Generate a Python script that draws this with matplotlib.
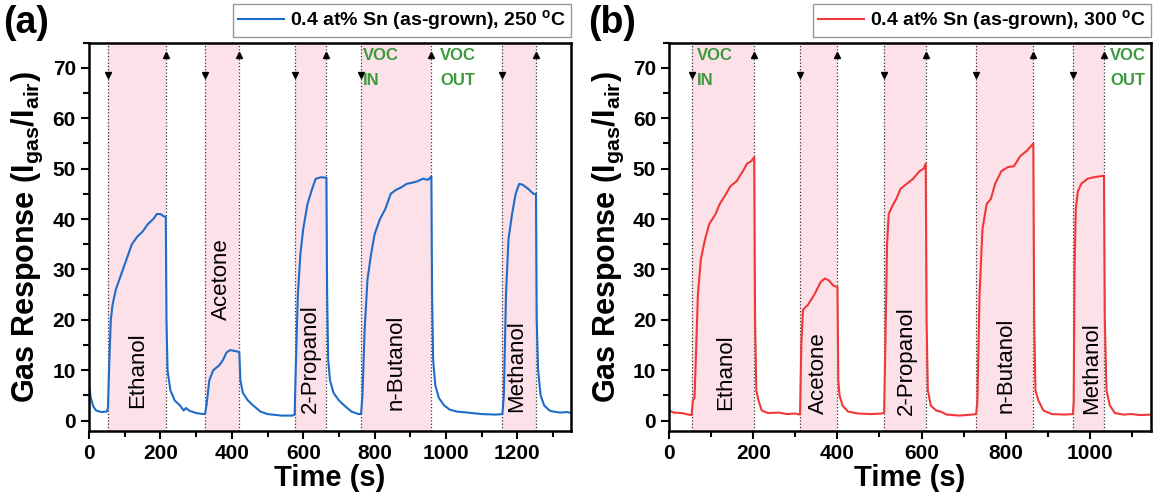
import matplotlib
matplotlib.use('Agg')
import matplotlib.pyplot as plt
from matplotlib.ticker import MultipleLocator

plt.rcParams['font.family'] = ['Liberation Sans', 'DejaVu Sans']
plt.rcParams['mathtext.default'] = 'regular'

gases = ['Ethanol', 'Acetone', '2-Propanol', 'n-Butanol', 'Methanol']

# (a) 250 C
t_a = [0, 5, 12, 20, 35, 50, 53, 57, 61, 66, 75, 90, 105, 120, 135, 150, 165, 180, 190, 200, 210, 215,
       217, 220, 228, 240, 255, 265, 272, 280, 300, 320, 325, 329, 337, 348, 365, 375, 385, 395, 410, 421,
       424, 431, 445, 460, 480, 500, 540, 570, 576, 579, 585, 592, 600, 612, 625, 635, 650, 665,
       667, 670, 675, 685, 700, 715, 735, 755, 762, 766, 772, 780, 790, 800, 815, 830, 845, 860, 875, 890, 905, 920, 935, 950, 959,
       961, 964, 970, 980, 995, 1010, 1030, 1060, 1100, 1140, 1158, 1162, 1168, 1175, 1185, 1195, 1205, 1215, 1230, 1245, 1252,
       1254, 1258, 1265, 1275, 1290, 1300, 1320, 1340, 1350]
r_a = [7.0, 4.5, 2.8, 2.0, 1.7, 1.8, 2.5, 12, 20, 23, 26, 29, 32, 35, 36.5, 37.5, 39, 40, 41, 41, 40.5, 40.5,
       20, 10, 6, 4, 3, 2, 2.5, 2, 1.5, 1.3, 1.3, 3, 8, 10, 11, 12, 13.5, 14, 13.8, 13.6,
       8, 5.5, 4, 3, 1.8, 1.3, 1.0, 1.0, 1.2, 10, 25, 33, 38, 43, 46, 48, 48.3, 48.2,
       25, 12, 8, 5.5, 4, 3, 1.8, 1.3, 1.3, 5, 18, 28, 33, 37, 40, 42, 45, 45.8, 46.3, 47, 47.2, 47.5, 48, 47.8, 48.5,
       25, 12, 7, 4.5, 3, 2.2, 1.8, 1.6, 1.3, 1.2, 1.3, 5, 25, 36, 41, 45, 47, 46.8, 46, 45, 45,
       20, 10, 5, 3, 2, 1.8, 1.6, 1.7, 1.5]
in_a = [53, 325, 576, 762, 1158]
out_a = [215, 421, 665, 959, 1252]
lab_x_a = [136, 372, 621, 859, 1198]
lab_y_a = [10.1, 28.1, 12.3, 11.6, 10.8]

# (b) 300 C
t_b = [0, 10, 30, 45, 53, 56, 60, 63, 68, 75, 85, 95, 110, 120, 135, 145, 160, 175, 185, 195, 202,
       204, 207, 212, 220, 235, 260, 280, 300, 311, 314, 318, 330, 345, 360, 370, 380, 390, 400,
       402, 405, 412, 425, 450, 480, 505, 511, 514, 518, 522, 530, 540, 550, 565, 580, 595, 605, 610,
       612, 615, 622, 635, 645, 660, 690, 720, 730, 733, 738, 745, 755, 765, 775, 790, 805, 820, 835, 850, 866,
       868, 871, 878, 890, 910, 940, 960, 962, 964, 967, 972, 980, 995, 1010, 1034,
       1036, 1040, 1048, 1060, 1080, 1100, 1120, 1148]
r_b = [2.0, 1.6, 1.5, 1.2, 1.1, 4, 4.5, 12, 25, 32, 36, 39, 41, 43, 45, 46.5, 47.5, 49.5, 51, 51.5, 52.3,
       20, 6, 4, 2, 1.5, 1.6, 1.3, 1.4, 1.2, 15, 22, 23, 25, 27.5, 28.2, 27.8, 26.8, 26.5,
       8, 5, 3, 1.8, 1.4, 1.3, 1.4, 1.6, 15, 35, 41, 42.5, 44, 46, 47, 48, 49.5, 50, 51,
       20, 6, 3, 2, 1.8, 1.2, 1.0, 1.2, 1.3, 4, 25, 38, 43, 44, 47, 49.5, 50.3, 50.5, 52.5, 53.5, 55,
       20, 6, 4, 2, 1.3, 1.2, 1.3, 3.5, 30, 42, 45.5, 47, 48, 48.3, 48.6,
       20, 6, 3, 1.5, 1.2, 1.3, 1.1, 1.2]
in_b = [53, 311, 511, 730, 960]
out_b = [202, 400, 610, 866, 1034]
lab_x_b = [133, 355, 564, 800, 1004]
lab_y_b = [9.6, 9.5, 12.0, 11.0, 10.5]

panels = [
    ('(a)', t_a, r_a, in_a, out_a, lab_x_a, lab_y_a, '#1f6cc8', '0.4 at% Sn (as-grown), 250 $^o$C', 1350, 767, 983),
    ('(b)', t_b, r_b, in_b, out_b, lab_x_b, lab_y_b, '#f0383a', '0.4 at% Sn (as-grown), 300 $^o$C', 1146, 66, 1049),
]
axes_pos = [[0.0772, 0.1334, 0.418, 0.7807], [0.5805, 0.1334, 0.4178, 0.7807]]
letter_x = [0.003, 0.510]

fig = plt.figure(figsize=(11.53, 4.97), dpi=100)

for k, (letter, t, r, t_in, t_out, lx, ly, col, lbl, xmax, voc_in_x, voc_out_x) in enumerate(panels):
    ax = fig.add_axes(axes_pos[k])
    for i in range(5):
        ax.axvspan(t_in[i], t_out[i], color='#fde1e8', lw=0, zorder=0)
        ax.axvline(t_in[i], color='#333333', ls=':', lw=0.9, zorder=1)
        ax.axvline(t_out[i], color='#333333', ls=':', lw=0.9, zorder=1)
        ax.plot(t_in[i], 68.6, marker='v', ms=5, color='k', zorder=3)
        ax.plot(t_out[i], 72.6, marker='^', ms=5, color='k', zorder=3)
        ax.text(lx[i], ly[i], gases[i], rotation=90, ha='center', va='center', fontsize=16, zorder=4)
    ax.plot(t, r, color=col, lw=1.5, label=lbl, zorder=2)

    for x0, words in [(voc_in_x, ('VOC', 'IN')), (voc_out_x, ('VOC', 'OUT'))]:
        ax.text(x0, 72.4, words[0], color='#3c9a3c', fontsize=12, fontweight='bold', va='center')
        ax.text(x0, 67.4, words[1], color='#3c9a3c', fontsize=12, fontweight='bold', va='center')

    ax.set_xlim(0, xmax)
    ax.set_ylim(-2, 75)
    ax.xaxis.set_major_locator(MultipleLocator(200))
    ax.xaxis.set_minor_locator(MultipleLocator(100))
    ax.yaxis.set_major_locator(MultipleLocator(10))
    ax.yaxis.set_minor_locator(MultipleLocator(5))
    ax.tick_params(which='both', direction='out', width=1.5, labelsize=15)
    ax.tick_params(which='major', length=6)
    ax.tick_params(which='minor', length=4)
    for lab in ax.get_xticklabels() + ax.get_yticklabels():
        lab.set_fontweight('bold')
    for s in ax.spines.values():
        s.set_linewidth(1.8)
    ax.set_xlabel('Time (s)', fontsize=21, fontweight='bold', labelpad=1)
    ax.set_ylabel('Gas Response (I$_{gas}$/I$_{air}$)', fontsize=22, fontweight='bold', labelpad=5)

    leg = ax.legend(loc='lower right', bbox_to_anchor=(1.0, 1.014), borderaxespad=0,
                    fancybox=False, framealpha=1, edgecolor='#999999', handlelength=2.4,
                    handletextpad=0.3, borderpad=0.25, prop={'weight': 'bold', 'size': 14})
    leg.get_frame().set_linewidth(1.0)

    fig.text(letter_x[k], 0.99, letter, fontsize=27, fontweight='bold', va='top', ha='left')

fig.savefig('out.png', dpi=100)
